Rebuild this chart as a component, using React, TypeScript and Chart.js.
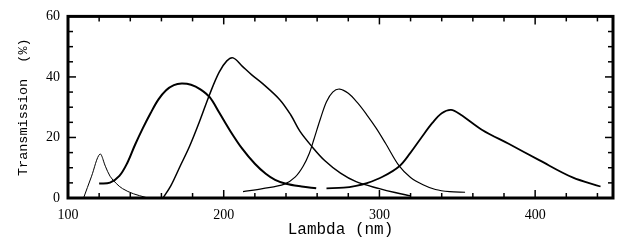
import React, { useEffect, useRef } from 'react';
import { Chart, registerables } from 'chart.js';

Chart.register(...registerables);

// Axis tick labels
const xTickValues = [100, 200, 300, 400];
const yTickValues = [0, 20, 40, 60];

// Filter A (thin, peak ~120 nm)
const lambdaA = [110, 115, 120.5, 124, 127, 131, 135, 142, 150];
const transA = [0, 7, 14.5, 10.5, 7.2, 4.8, 3.1, 1.4, 0.2];

// Filter B (thick, peak ~172 nm)
const lambdaB = [120, 127, 133, 138, 143, 148, 153, 158, 163, 168, 173, 179, 185, 191, 197, 204, 212, 220, 227, 233, 240, 250, 259.4];
const transB = [4.8, 5.1, 7.3, 11.5, 17.5, 23, 28, 32.5, 35.6, 37.3, 37.8, 37.4, 35.9, 33.3, 28.3, 22.3, 16.2, 11.3, 8, 6, 4.7, 3.8, 3.2];

// Filter C (peak ~206 nm)
const lambdaC = [161, 166, 172, 178, 185, 191, 197, 202, 206, 212, 218, 225, 236, 243, 249, 257, 265, 275, 285, 300, 310, 320];
const transC = [0, 4, 10.5, 17, 26, 34.3, 41.5, 45.3, 46.3, 43.5, 40.7, 37.8, 32.5, 27.5, 22, 16.8, 12.3, 8.2, 5.4, 3.1, 1.8, 0.7];

// Filter D (peak ~274 nm)
const lambdaD = [212.4, 225, 239, 246, 251, 255, 258, 262, 266, 270, 274.4, 280, 286, 292, 298, 304, 312.8, 320, 328, 336, 345, 355];
const transD = [2.1, 3.1, 4.6, 7, 10.5, 14.8, 19.5, 26, 31.8, 35, 36, 34.6, 31.4, 27.4, 23, 18, 10.5, 6.8, 4.4, 2.8, 2.1, 1.9];

// Filter E (thick, peak ~346 nm)
const lambdaE = [266, 277, 285, 292, 302, 312.8, 320, 327, 334, 340, 346, 352, 366, 383, 402.6, 424, 442];
const transE = [3.2, 3.4, 4, 4.9, 7, 10.5, 15, 20, 24.8, 28, 29.1, 27.6, 22.5, 17.9, 12.5, 6.8, 3.8];

const toPoints = (xs: number[], ys: number[]) => xs.map((x, i) => ({ x, y: ys[i] }));

const frameTicks = {
  id: 'frameTicks',
  afterDatasetsDraw(chart: any) {
    const { ctx, chartArea: a, scales } = chart;
    const xs = scales.x;
    const ys = scales.y;
    ctx.save();
    ctx.strokeStyle = '#000';
    ctx.lineWidth = 1.5;
    const seg = (x1: number, y1: number, x2: number, y2: number) => {
      ctx.beginPath();
      ctx.moveTo(x1, y1);
      ctx.lineTo(x2, y2);
      ctx.stroke();
    };
    for (let v = 120; v < 450; v += 20) {
      const px = xs.getPixelForValue(v);
      const len = v % 100 === 0 ? 8 : 5;
      seg(px, a.bottom, px, a.bottom - len);
      seg(px, a.top, px, a.top + len);
    }
    for (let v = 5; v < 60; v += 5) {
      const py = ys.getPixelForValue(v);
      const len = v % 20 === 0 ? 8 : 5;
      seg(a.left, py, a.left + len, py);
      seg(a.right, py, a.right - len, py);
    }
    ctx.lineWidth = 3;
    ctx.strokeRect(a.left, a.top, a.right - a.left, a.bottom - a.top);
    ctx.restore();
  },
};

export default function App() {
  const ref = useRef<HTMLCanvasElement | null>(null);
  useEffect(() => {
    if (!ref.current) return;
    const mk = (xs: number[], ys: number[], w: number) => ({
      data: toPoints(xs, ys),
      borderColor: '#000',
      borderWidth: w,
      pointRadius: 0,
      fill: false,
      tension: 0.35,
    });
    const chart = new Chart(ref.current, {
      type: 'line',
      data: {
        datasets: [
          mk(lambdaA, transA, 1),
          mk(lambdaB, transB, 2),
          mk(lambdaC, transC, 1.5),
          mk(lambdaD, transD, 1.2),
          mk(lambdaE, transE, 1.8),
        ],
      },
      options: {
        animation: false,
        responsive: false,
        layout: { padding: { top: 15, right: 4, left: 0, bottom: 0 } },
        plugins: { legend: { display: false }, tooltip: { enabled: false } },
        scales: {
          x: {
            type: 'linear',
            min: 100,
            max: 450,
            afterBuildTicks: (s: any) => {
              s.ticks = xTickValues.map((v) => ({ value: v }));
            },
            afterFit: (s: any) => {
              s.height = 47;
            },
            grid: { display: false, drawTicks: false },
            border: { display: false },
            ticks: {
              color: '#000',
              padding: 9,
              maxRotation: 0,
              font: { family: 'Liberation Serif', size: 14 },
            },
            title: {
              display: true,
              text: 'Lambda (nm)',
              color: '#000',
              font: { family: 'Liberation Mono', size: 16 },
              padding: { top: 0, bottom: 6 },
            },
          },
          y: {
            type: 'linear',
            min: 0,
            max: 60,
            afterBuildTicks: (s: any) => {
              s.ticks = yTickValues.map((v) => ({ value: v }));
            },
            afterFit: (s: any) => {
              s.width = 68;
            },
            grid: { display: false, drawTicks: false },
            border: { display: false },
            ticks: {
              color: '#000',
              padding: 8,
              font: { family: 'Liberation Serif', size: 14 },
            },
            title: {
              display: true,
              text: 'Transmission  (%)',
              color: '#000',
              font: { family: 'Liberation Mono', size: 13.5 },
              padding: { top: 15, bottom: 0 },
            },
          },
        },
      },
      plugins: [frameTicks],
    });
    return () => chart.destroy();
  }, []);
  return (
    <div style={{ position: 'fixed', left: 0, top: 0, width: 617, height: 245, background: '#fff' }}>
      <canvas ref={ref} width={617} height={245} />
    </div>
  );
}
